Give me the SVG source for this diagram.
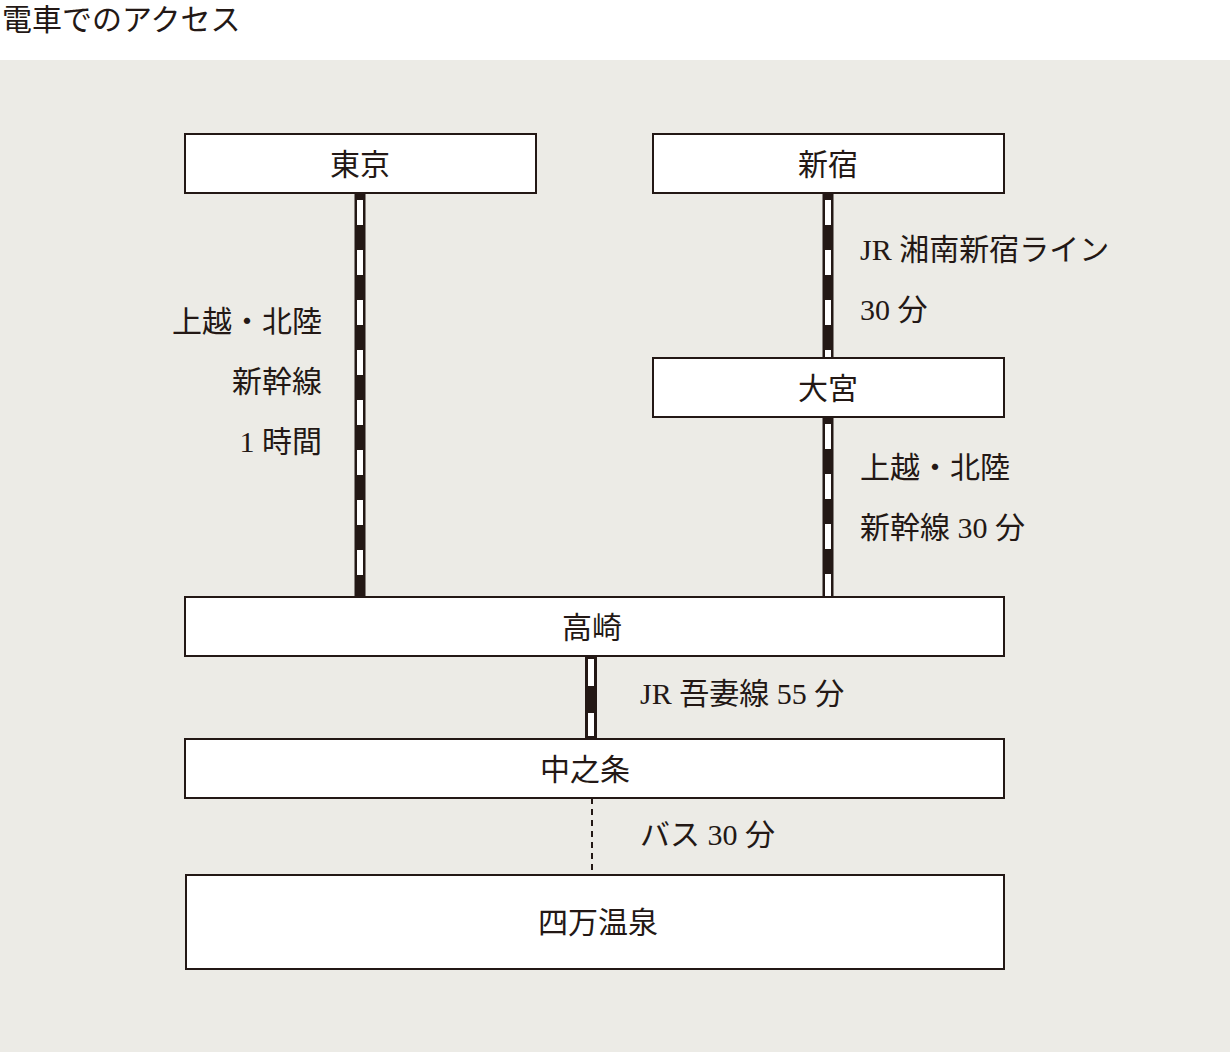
<svg xmlns="http://www.w3.org/2000/svg" width="1230" height="1052" viewBox="0 0 1230 1052">
<style>
.box{fill:#fff;stroke:#231815;stroke-width:2}
.t{font-family:"Liberation Serif","Noto Sans CJK JP",serif;font-size:30px;fill:#231815}
.c{text-anchor:middle}
.rb{stroke:#231815;stroke-width:11;fill:none}
.rw{stroke:#fff;stroke-width:6;stroke-dasharray:25 25;fill:none}
</style>
<rect x="0" y="0" width="1230" height="1052" fill="#fff"/>
<rect x="0" y="60" width="1230" height="992" fill="#ecebe6"/>
<text class="t" x="2" y="30" font-size="32">電車でのアクセス</text>
<g id="connectors">
<line class="rb" x1="360" y1="193" x2="360" y2="597"/>
<line class="rw" x1="360" y1="200" x2="360" y2="597"/>
<line class="rb" x1="828" y1="193" x2="828" y2="358"/>
<line class="rw" x1="828" y1="200" x2="828" y2="358"/>
<line class="rb" x1="828" y1="417" x2="828" y2="597"/>
<line class="rw" x1="828" y1="424" x2="828" y2="597"/>
<line x1="591" y1="656" x2="591" y2="739" stroke="#231815" stroke-width="12"/>
<line x1="591" y1="659" x2="591" y2="736" stroke="#fff" stroke-width="6" stroke-dasharray="27 27 30"/>
<line x1="592" y1="798" x2="592" y2="872" stroke="#231815" stroke-width="2" stroke-dasharray="6 5"/>
</g>
<g id="tokyo"><rect class="box" x="185" y="134" width="351" height="59"/><text class="t c" x="360" y="175">東京</text></g>
<g id="shinjuku"><rect class="box" x="653" y="134" width="351" height="59"/><text class="t c" x="828" y="175">新宿</text></g>
<g id="omiya"><rect class="box" x="653" y="358" width="351" height="59"/><text class="t c" x="828" y="399">大宮</text></g>
<g id="takasaki"><rect class="box" x="185" y="597" width="819" height="59"/><text class="t c" x="592" y="638">高崎</text></g>
<g id="nakanojo"><rect class="box" x="185" y="739" width="819" height="59"/><text class="t c" x="585" y="780">中之条</text></g>
<g id="shima"><rect class="box" x="186" y="875" width="818" height="94"/><text class="t c" x="598" y="933">四万温泉</text></g>
<g id="labels">
<text class="t" x="322" y="332" text-anchor="end">上越・北陸</text>
<text class="t" x="322" y="392" text-anchor="end">新幹線</text>
<text class="t" x="322" y="452" text-anchor="end">1 時間</text>
<text class="t" x="860" y="260">JR 湘南新宿ライン</text>
<text class="t" x="860" y="320">30 分</text>
<text class="t" x="860" y="478">上越・北陸</text>
<text class="t" x="860" y="538">新幹線 30 分</text>
<text class="t" x="640" y="704">JR 吾妻線 55 分</text>
<text class="t" x="640" y="845">バス 30 分</text>
</g>
</svg>
